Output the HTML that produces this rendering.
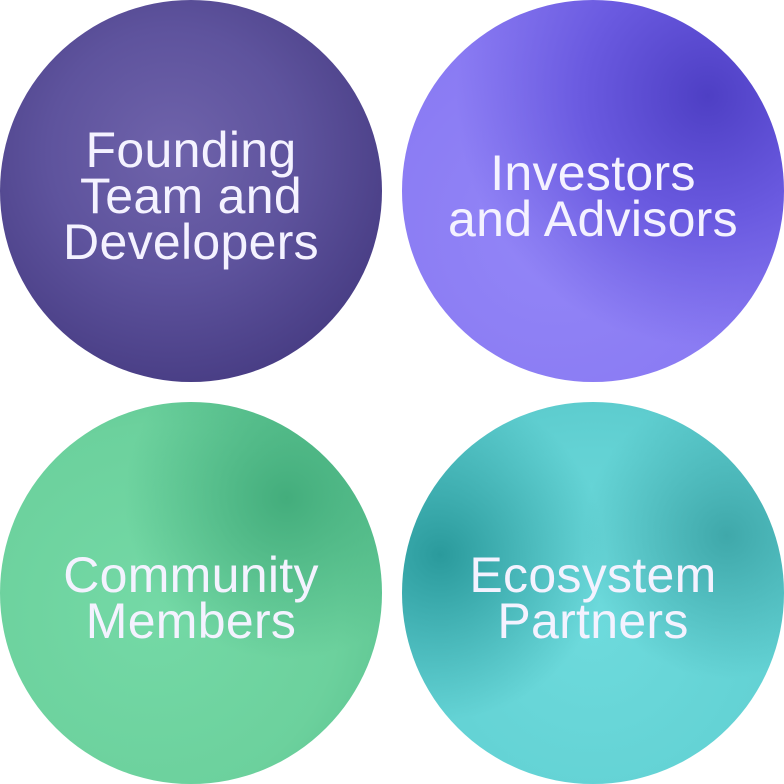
<!DOCTYPE html>
<html><head><meta charset="utf-8"><style>
html,body{margin:0;padding:0;background:#fff;}
body{width:784px;height:782px;position:relative;overflow:hidden;font-family:"Liberation Sans","DejaVu Sans",sans-serif;}
.c{position:absolute;width:382px;height:382px;border-radius:50%;display:flex;align-items:center;justify-content:center;text-align:center;color:#f4f2ff;font-size:50px;line-height:46px;letter-spacing:0.3px;}
.c span{position:relative;top:5px;}
#tl{left:0;top:0;background:radial-gradient(circle at 45% 40%,#6f63ab 0%,#5e539d 40%,#463b82 80%,#3a2f72 100%);}
#tr{left:402px;top:0;background:radial-gradient(circle at 80% 25%,#4e3fc4 0%,#6a5ae0 30%,transparent 60%),radial-gradient(circle at 40% 60%,#9386f7 0%,#8a7bf3 60%,#7d6de8 100%);}
#bl{left:0;top:402px;background:radial-gradient(circle at 75% 25%,#43ad7c 0%,transparent 40%),radial-gradient(circle at 40% 55%,#74d9a6 0%,#6cd19d 60%,#52bb89 100%);}
#br{left:402px;top:402px;background:radial-gradient(circle at 10% 40%,#2a9a9c 0%,transparent 40%),radial-gradient(circle at 85% 35%,#3fa8aa 0%,transparent 35%),radial-gradient(circle at 50% 60%,#6ddadc 0%,#63d2d4 60%,#55c4c6 100%);}
</style></head><body>
<div class="c" id="tl"><span>Founding<br>Team and<br>Developers</span></div>
<div class="c" id="tr"><span>Investors<br>and Advisors</span></div>
<div class="c" id="bl"><span>Community<br>Members</span></div>
<div class="c" id="br"><span>Ecosystem<br>Partners</span></div>
</body></html>
